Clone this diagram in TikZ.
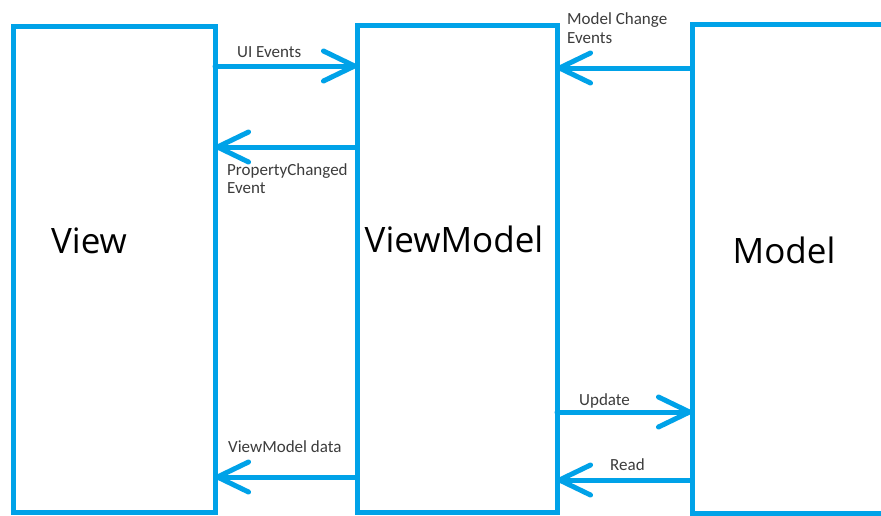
\documentclass[tikz,border=0pt]{standalone}
\usepackage{fontspec}
\setmainfont{Carlito}
\newfontfamily\bigfont{Open Sans}
\usetikzlibrary{arrows.meta}
\definecolor{mvvmblue}{RGB}{0,162,232}
\definecolor{labelgray}{RGB}{60,60,60}
\tikzset{
  box/.style={draw=mvvmblue, line width=5pt, rectangle, inner sep=0pt, outer sep=0pt},
  flow/.style={draw=mvvmblue, line width=5pt, line cap=round,
    -{Straight Barb[length=31pt,width=30pt,line cap=round,line join=round]}},
  title/.style={font=\bigfont\fontsize{35}{42}\selectfont, text=black, inner sep=0pt},
  note/.style={font=\fontsize{17}{20}\selectfont, text=labelgray, inner sep=0pt, anchor=base west}
}
\begin{document}
\begin{tikzpicture}[x=1pt,y=-1pt]
  \useasboundingbox (0,0) rectangle (881,515);
  \clip (0,0) rectangle (881,515);
  \fill[white] (0,0) rectangle (881,515);

  % the three layers
  \node[box, minimum width=202pt, minimum height=486pt] (view) at (114,269) {};
  \node[box, minimum width=200pt, minimum height=487pt] (vm) at (457,268.5) {};
  \node[box, minimum width=220pt, minimum height=489pt] (model) at (802,268.5) {};

  \node[title, anchor=base] (viewname) at (89,253) {View};
  \node[title, anchor=base] (vmname) at (454,252) {ViewModel};
  \node[title, anchor=base] (modelname) at (784,263) {Model};

  % heights of the connectors
  \coordinate (yUI) at (0,66);
  \coordinate (yPC) at (0,147);
  \coordinate (yMC) at (0,68);
  \coordinate (yUP) at (0,412);
  \coordinate (yRD) at (0,480);
  \coordinate (yVD) at (0,477);

  % View <-> ViewModel
  \draw[flow] (view.east |- yUI) -- (vm.west |- yUI);
  \draw[flow] (vm.west |- yPC) -- (view.east |- yPC);
  \draw[flow] (vm.west |- yVD) -- (view.east |- yVD);

  % ViewModel <-> Model
  \draw[flow] (model.west |- yMC) -- (vm.east |- yMC);
  \draw[flow] (vm.east |- yUP) -- (model.west |- yUP);
  \draw[flow] (model.west |- yRD) -- (vm.east |- yRD);

  % connector labels
  \node[note] (lui) at (237,57) {UI Events};
  \node[note] (lpc1) at (227,175) {PropertyChanged};
  \node[note] (lpc2) at (227,193) {Event};
  \node[note] (lvd) at (228,452) {ViewModel data};
  \node[note] (lmc1) at (567,24) {Model Change};
  \node[note] (lmc2) at (567,43) {Events};
  \node[note] (lup) at (579,405) {Update};
  \node[note] (lrd) at (610,470) {Read};
\end{tikzpicture}
\end{document}
